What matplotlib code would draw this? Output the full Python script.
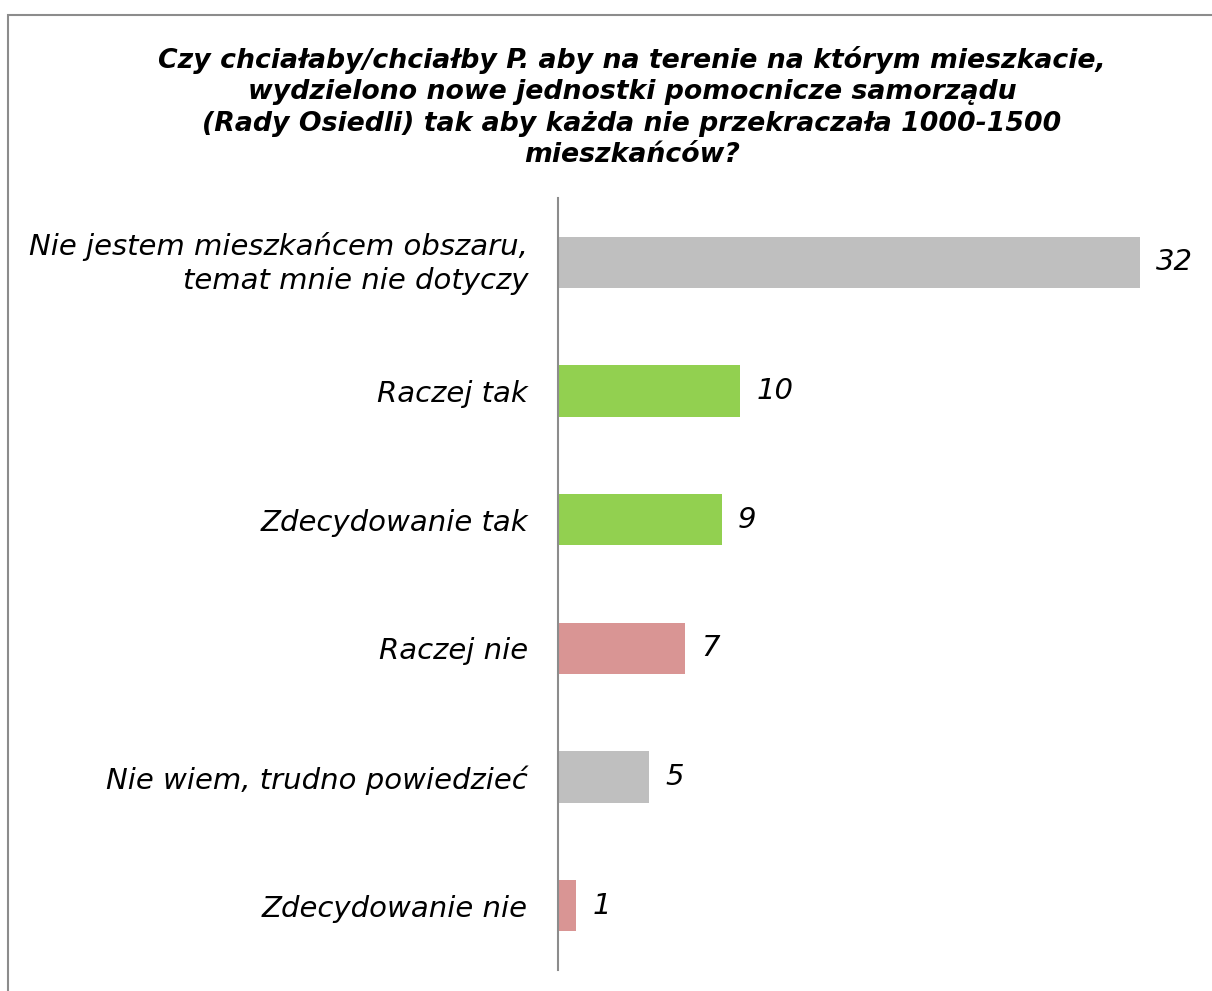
import matplotlib
matplotlib.use("Agg")
import matplotlib.pyplot as plt
import matplotlib.transforms as mtransforms
from matplotlib.patches import Rectangle

categories = ["Nie jestem mieszkańcem obszaru,\ntemat mnie nie dotyczy",
              "Raczej tak", "Zdecydowanie tak", "Raczej nie",
              "Nie wiem, trudno powiedzieć", "Zdecydowanie nie"]
values = [32, 10, 9, 7, 5, 1]
colors = ["#BFBFBF", "#92D050", "#92D050", "#D99594", "#BFBFBF", "#D99594"]
title = ("Czy chciałaby/chciałby P. aby na terenie na którym mieszkacie,\n"
         "wydzielono nowe jednostki pomocnicze samorządu\n"
         "(Rady Osiedli) tak aby każda nie przekraczała 1000-1500\n"
         "mieszkańców?")

W, H = 1212, 991
fig = plt.figure(figsize=(W / 100, H / 100), dpi=100)
fig.patch.set_facecolor("white")

# outer border
fig.patches.append(Rectangle((7.5 / W, -0.1), 1.2, 1.1 - 15.5 / H,
                             transform=fig.transFigure, fill=False,
                             edgecolor="#8C8C8C", linewidth=1.5))

ax_left, ax_right = 558, 1194.6
ax_top, ax_bot = 198, 970
ax = fig.add_axes([ax_left / W, 1 - ax_bot / H, (ax_right - ax_left) / W, (ax_bot - ax_top) / H])
ypos = list(range(len(categories)))
ax.barh(ypos, values, height=0.4, color=colors)
ax.set_ylim(len(categories) - 0.5, -0.5)
ax.set_xlim(0, 35)
for s in ["top", "right", "bottom"]:
    ax.spines[s].set_visible(False)
ax.spines["left"].set_color("#8C8C8C")
ax.spines["left"].set_linewidth(1.5)
ax.set_xticks([])
ax.set_yticks(ypos)
ax.set_yticklabels(categories, fontsize=21, style="italic", ha="right")
ax.tick_params(axis="y", length=0, pad=21.5)
for lab in ax.get_yticklabels():
    lab.set_multialignment("right")
    lab.set_linespacing(1.3)
# nudge the two-line label up slightly
first = ax.get_yticklabels()[0]
first.set_transform(first.get_transform() + mtransforms.ScaledTranslation(0, 5 / 100, fig.dpi_scale_trans))
for y, v in zip(ypos, values):
    ax.text(v + 0.9, y, str(v), va="center", ha="left", fontsize=21, style="italic")

fig.text(632 / W, 1 - 46 / H, title, ha="center", va="top", fontsize=19.3,
         fontweight="bold", style="italic", linespacing=1.27)

fig.savefig("out.png", dpi=100)
